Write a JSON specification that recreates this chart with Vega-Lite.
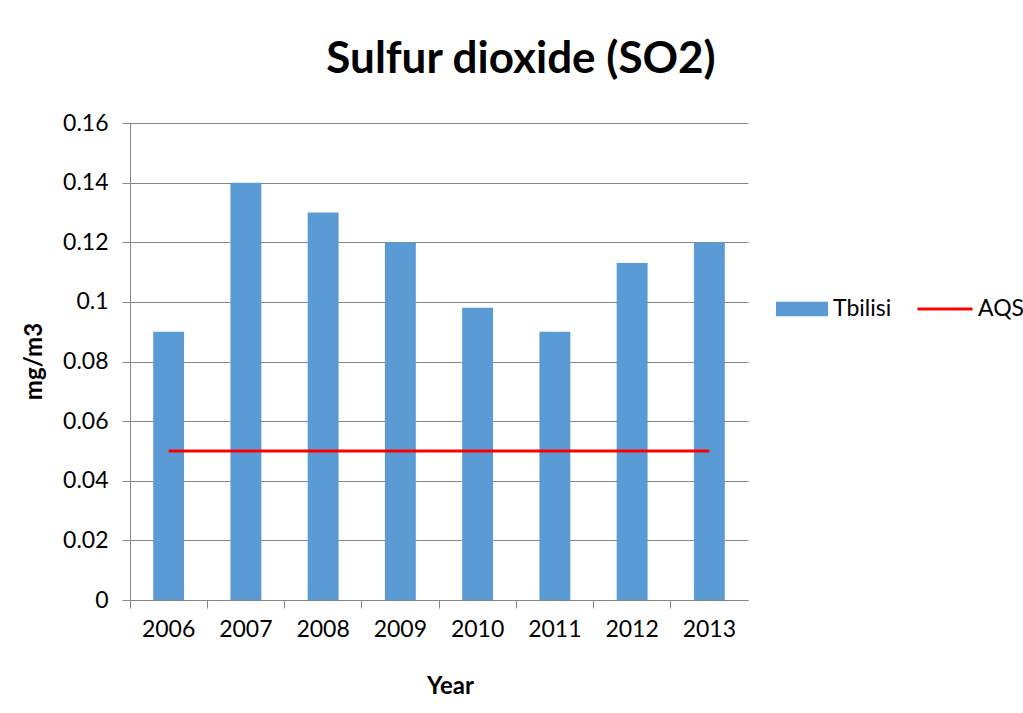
{
  "$schema": "https://vega.github.io/schema/vega-lite/v6.json",
  "autosize": {"type": "none"},
  "width": 618,
  "height": 477,
  "padding": {"left": 130, "top": 123, "right": 275, "bottom": 113},
  "background": "white",
  "config": {
    "font": "Lato",
    "view": {"stroke": null},
    "axis": {"labelFont": "Lato", "titleFont": "Lato", "labelColor": "black", "titleColor": "black"},
    "legend": {"labelFont": "Lato", "labelColor": "black"}
  },
  "title": {
    "text": "Sulfur dioxide (SO2)",
    "font": "Lato",
    "fontSize": 44,
    "fontWeight": "bold",
    "color": "black",
    "anchor": "middle",
    "baseline": "alphabetic",
    "dx": 82,
    "offset": -5
  },
  "data": {
    "values": [
      {"year": "2006", "value": 0.09, "aqs": 0.05, "s1": "Tbilisi", "s2": "AQS"},
      {"year": "2007", "value": 0.14, "aqs": 0.05, "s1": "Tbilisi", "s2": "AQS"},
      {"year": "2008", "value": 0.13, "aqs": 0.05, "s1": "Tbilisi", "s2": "AQS"},
      {"year": "2009", "value": 0.12, "aqs": 0.05, "s1": "Tbilisi", "s2": "AQS"},
      {"year": "2010", "value": 0.098, "aqs": 0.05, "s1": "Tbilisi", "s2": "AQS"},
      {"year": "2011", "value": 0.09, "aqs": 0.05, "s1": "Tbilisi", "s2": "AQS"},
      {"year": "2012", "value": 0.113, "aqs": 0.05, "s1": "Tbilisi", "s2": "AQS"},
      {"year": "2013", "value": 0.12, "aqs": 0.05, "s1": "Tbilisi", "s2": "AQS"}
    ]
  },
  "encoding": {
    "x": {
      "field": "year",
      "type": "ordinal",
      "scale": {"paddingInner": 0, "paddingOuter": 0},
      "axis": {
        "title": "Year",
        "titleFontSize": 24,
        "titleFontWeight": "bold",
        "titleX": 320,
        "titleY": 74,
        "labelAngle": 0,
        "labelFontSize": 23,
        "labelPadding": 10,
        "bandPosition": 0,
        "tickSize": 8,
        "tickColor": "#868686",
        "domainColor": "#868686",
        "grid": false
      }
    }
  },
  "layer": [
    {
      "mark": {"type": "bar", "width": {"band": 0.4}, "color": "#5B9BD5"},
      "encoding": {
        "y": {
          "field": "value",
          "type": "quantitative",
          "scale": {"domain": [0, 0.16]},
          "axis": {
            "title": "mg/m3",
            "titleFontSize": 24,
            "titleFontWeight": "bold",
            "titleX": -84,
            "titleY": 238,
            "values": [0, 0.02, 0.04, 0.06, 0.08, 0.1, 0.12, 0.14, 0.16],
            "labelExpr": "datum.value == 0 ? '0' : datum.value == 0.1 ? '0.1' : format(datum.value, '.2f')",
            "labelFontSize": 23,
            "labelPadding": 14,
            "tickSize": 8,
            "tickColor": "#868686",
            "domainColor": "#868686",
            "gridColor": "#868686",
            "gridWidth": 1
          }
        },
        "fill": {
          "field": "s1",
          "type": "nominal",
          "scale": {"range": ["#5B9BD5"]},
          "legend": {
            "title": null,
            "orient": "none",
            "legendX": 646,
            "legendY": 160,
            "labelFontSize": 23,
            "symbolType": "M-1,-0.28H1V0.28H-1Z",
            "symbolSize": 2704,
            "symbolStrokeWidth": 0,
            "labelOffset": 5
          }
        }
      }
    },
    {
      "mark": {"type": "line", "strokeWidth": 3},
      "encoding": {
        "y": {"field": "aqs", "type": "quantitative"},
        "stroke": {
          "field": "s2",
          "type": "nominal",
          "scale": {"range": ["#FF0000"]},
          "legend": {
            "title": null,
            "orient": "none",
            "legendX": 786,
            "legendY": 157,
            "labelFontSize": 23,
            "symbolType": "stroke",
            "symbolSize": 3025,
            "symbolStrokeWidth": 3,
            "labelOffset": 4
          }
        }
      }
    }
  ]
}
